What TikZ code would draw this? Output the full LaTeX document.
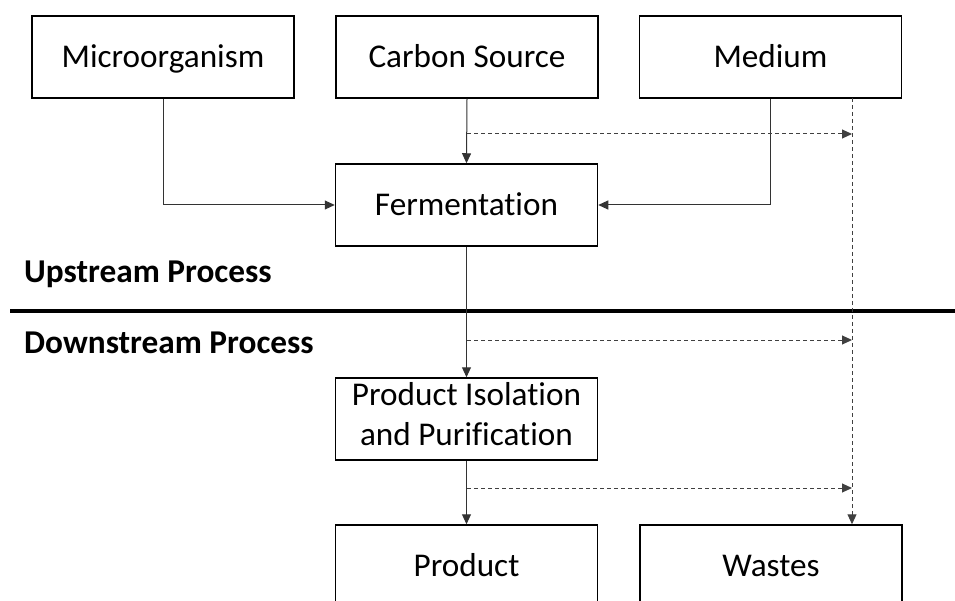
\documentclass[tikz,border=0pt]{standalone}
\usepackage{fontspec}
\setmainfont[Ligatures=NoCommon]{Carlito}
\usetikzlibrary{arrows.meta,calc}

\tikzset{
  box/.style={draw=black, line width=1.5pt, rectangle, inner sep=0pt,
    minimum width=262pt, minimum height=82pt,
    font=\fontsize{33.2}{40}\selectfont, text height=21.5pt, text depth=0pt},
  conn/.style={draw=black!80, line width=1pt,
    -{Triangle[length=10pt,width=9pt]}},
  dashconn/.style={draw=black!75, line width=1pt, dash pattern=on 4pt off 3pt,
    -{Triangle[length=10pt,width=9pt]}},
  phase/.style={font=\fontsize{33.3}{40}\selectfont\bfseries, inner sep=0pt, anchor=base west}
}

\begin{document}
\begin{tikzpicture}[x=1pt,y=-1pt]
  \useasboundingbox (0,0) rectangle (955,601);
  \clip (0,0) rectangle (955,601);

  % inputs
  \node[box] (micro)  at (163,57)   {Microorganism};
  \node[box] (carbon) at (467,57)   {Carbon Source};
  \node[box] (medium) at (770.5,57) {Medium};

  % processing steps
  \node[box] (ferm)    at (466.5,205) {Fermentation};
  \node[box, align=center, text height=62pt, text depth=10pt] (iso) at (466.5,419)
    {Product Isolation\\and Purification};

  % outputs
  \node[box] (product) at (466.5,566) {Product};
  \node[box] (wastes)  at (771,566)   {Wastes};

  % section labels and separator
  \node[phase] (up)   at (24,283) {Upstream Process};
  \node[phase] (down) at (24,353) {Downstream Process};
  \coordinate (sepL) at (10,311);
  \coordinate (sepR) at (955,311);
  \draw[line width=4pt] (sepL) -- (sepR);

  % main flow
  \draw[conn] (micro.south) |- (ferm.west);
  \draw[conn] (carbon.south) -- (ferm.north);
  \draw[conn] (medium.south) |- (ferm.east);
  \draw[conn] (ferm.south) -- (iso.north);
  \draw[conn] (iso.south) -- (product.north);

  % waste stream
  \coordinate (wtap) at (852,98);
  \draw[dashconn] (wtap) -- (wtap |- wastes.north);
  \coordinate (w1) at (467,134);
  \coordinate (w2) at (467,340);
  \coordinate (w3) at (467,488);
  \draw[dashconn] (w1) -- (w1 -| wtap);
  \draw[dashconn] (w2) -- (w2 -| wtap);
  \draw[dashconn] (w3) -- (w3 -| wtap);
\end{tikzpicture}
\end{document}
